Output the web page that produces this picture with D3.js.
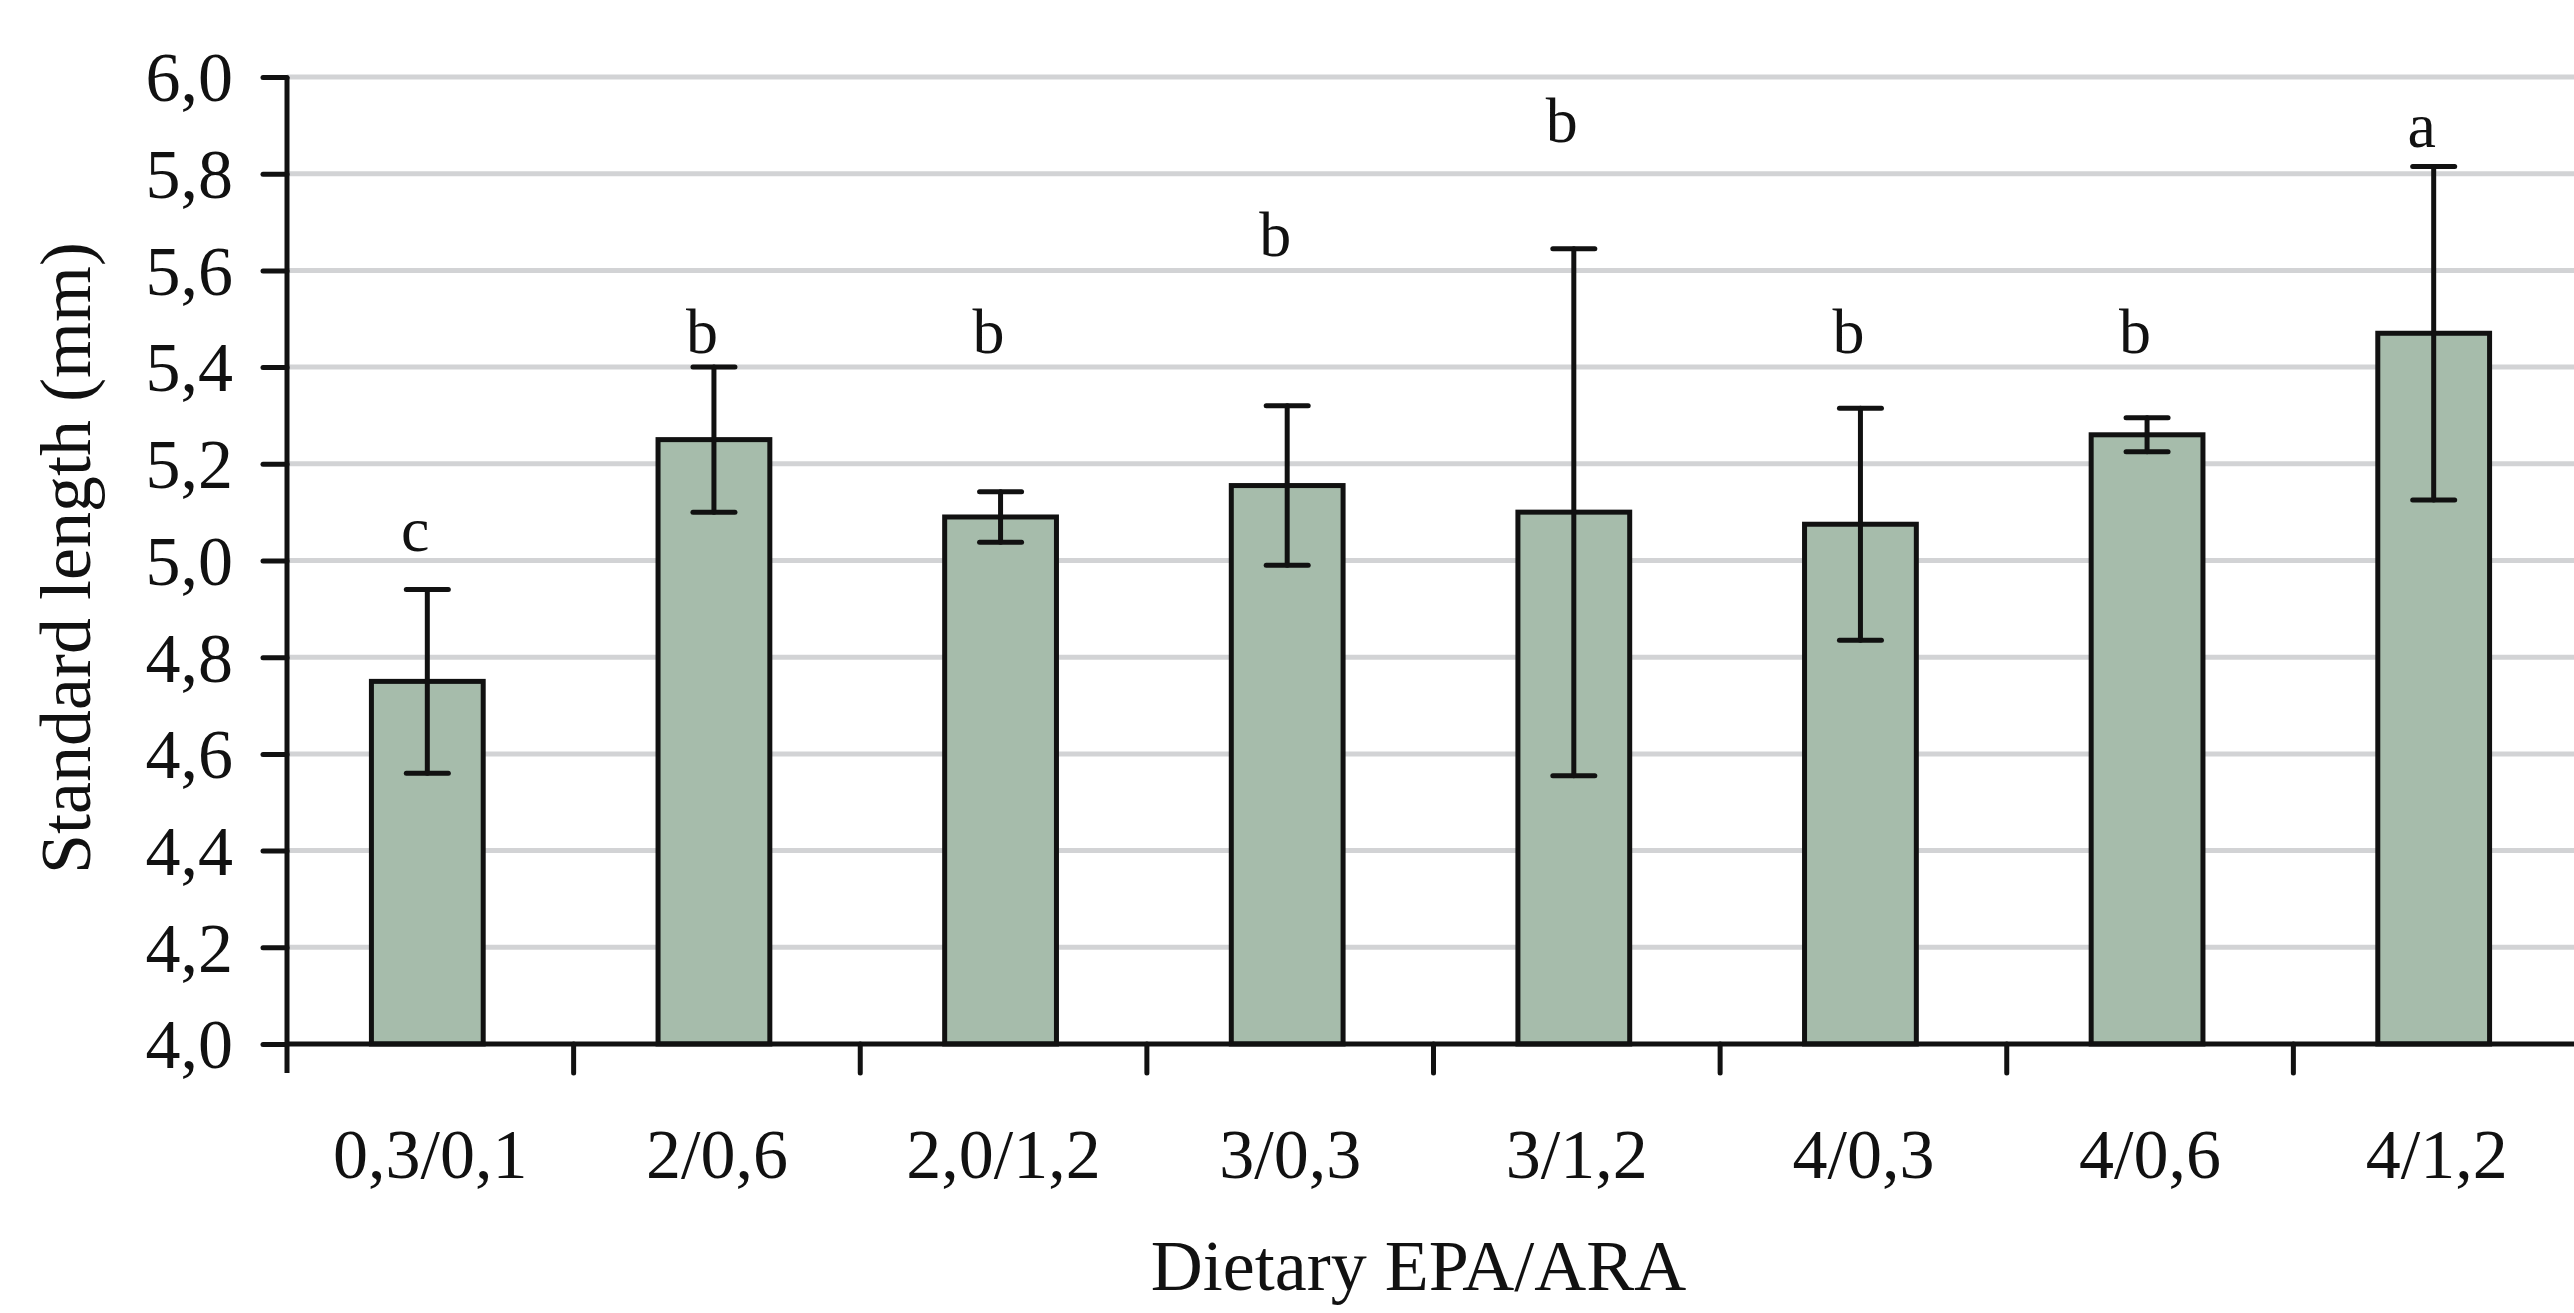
<!DOCTYPE html>
<html>
<head>
<meta charset="utf-8">
<script src="https://cdnjs.cloudflare.com/ajax/libs/d3/7.8.5/d3.min.js"></script>
<style>
  html, body { margin: 0; padding: 0; background: #fff; }
  svg text { font-family: "Liberation Serif", "DejaVu Serif", serif; fill: #111; }
</style>
</head>
<body>
<div id="vizContainer"></div>
<script>
// chart data
var categories = ['0,3/0,1', '2/0,6', '2,0/1,2', '3/0,3', '3/1,2', '4/0,3', '4/0,6', '4/1,2'];
var means = [4.75, 5.25, 5.09, 5.155, 5.10, 5.075, 5.26, 5.47];
var errors = [0.19, 0.15, 0.052, 0.165, 0.545, 0.24, 0.035, 0.345];
var letters = ['c', 'b', 'b', 'b', 'b', 'b', 'b', 'a'];
// vertical position of each letter, in axis units
var letterPos = [5.02, 5.43, 5.43, 5.63, 5.865, 5.43, 5.43, 5.855];
var yTicks = [4.0, 4.2, 4.4, 4.6, 4.8, 5.0, 5.2, 5.4, 5.6, 5.8, 6.0];

var width = 2574, height = 1313;
var plotLeft = 287, plotRight = 2580, plotTop = 77, plotBottom = 1044;

var svg = d3.select('#vizContainer').append('svg')
    .attr('width', width)
    .attr('height', height)
    .attr('viewBox', '0 0 ' + width + ' ' + height);

var x = d3.scaleBand().domain(categories).range([plotLeft, plotRight]).padding(0);
var y = d3.scaleLinear().domain([4.0, 6.0]).range([plotBottom, plotTop]);
var barW = x.bandwidth() * 0.39;
var fmt = function(d){ return d3.format('.1f')(d).replace('.', ','); };

// grid lines
svg.append('g').selectAll('line')
    .data(yTicks.slice(1))
    .enter().append('line')
    .attr('x1', plotLeft).attr('x2', width)
    .attr('y1', function(d){ return y(d); })
    .attr('y2', function(d){ return y(d); })
    .attr('stroke', '#d2d3d5')
    .attr('stroke-width', 5);

// bars
svg.append('g').selectAll('rect')
    .data(means)
    .enter().append('rect')
    .attr('x', function(d, i){ return x(categories[i]) + x.bandwidth() / 2 - barW / 2 - 3; })
    .attr('y', function(d){ return y(d); })
    .attr('width', barW)
    .attr('height', function(d){ return y(4.0) - y(d); })
    .attr('fill', '#a6bcab')
    .attr('stroke', '#111')
    .attr('stroke-width', 5);

// error bars
var eb = svg.append('g').attr('stroke', '#111').attr('stroke-width', 5).attr('stroke-linecap', 'round');
means.forEach(function(m, i){
    var cx = x(categories[i]) + x.bandwidth() / 2 - 3;
    var hi = y(m + errors[i]), lo = y(m - errors[i]);
    eb.append('line').attr('x1', cx).attr('x2', cx).attr('y1', hi).attr('y2', lo);
    eb.append('line').attr('x1', cx - 21).attr('x2', cx + 21).attr('y1', hi).attr('y2', hi);
    eb.append('line').attr('x1', cx - 21).attr('x2', cx + 21).attr('y1', lo).attr('y2', lo);
});

// significance letters
svg.append('g').selectAll('text')
    .data(letters)
    .enter().append('text')
    .attr('x', function(d, i){ return x(categories[i]) + x.bandwidth() / 2 - 15; })
    .attr('y', function(d, i){ return y(letterPos[i]); })
    .attr('text-anchor', 'middle')
    .attr('font-size', 64)
    .text(function(d){ return d; });

// y axis
var yAxis = svg.append('g')
    .attr('transform', 'translate(' + plotLeft + ',0)')
    .call(d3.axisLeft(y).tickValues(yTicks).tickFormat(fmt).tickSize(24).tickPadding(30));
yAxis.select('.domain').attr('stroke', '#111').attr('stroke-width', 5).attr('d', 'M0,' + plotTop + 'V' + (plotBottom + 29));
yAxis.selectAll('.tick line').attr('stroke', '#111').attr('stroke-width', 5).attr('stroke-linecap', 'round');
yAxis.selectAll('.tick text').attr('font-size', 70).attr('font-family', '"Liberation Serif", serif').attr('fill', '#111').attr('dy', '0.34em');

// x axis
var xAxis = svg.append('g')
    .attr('transform', 'translate(0,' + plotBottom + ')')
    .call(d3.axisBottom(x).tickSize(0).tickPadding(84));
xAxis.select('.domain').attr('stroke', '#111').attr('stroke-width', 5).attr('d', 'M' + plotLeft + ',0H' + width);
xAxis.selectAll('.tick text').attr('font-size', 70).attr('font-family', '"Liberation Serif", serif').attr('fill', '#111');
// boundary ticks between categories
xAxis.append('g').selectAll('line')
    .data(categories.slice(1))
    .enter().append('line')
    .attr('x1', function(d){ return x(d); })
    .attr('x2', function(d){ return x(d); })
    .attr('y1', 0).attr('y2', 29)
    .attr('stroke', '#111').attr('stroke-width', 5).attr('stroke-linecap', 'round');

// axis titles
svg.append('text')
    .attr('x', (plotLeft + plotRight) / 2 - 15)
    .attr('y', 1290)
    .attr('text-anchor', 'middle')
    .attr('font-size', 72)
    .text('Dietary EPA/ARA');

svg.append('text')
    .attr('transform', 'translate(90,558) rotate(-90)')
    .attr('text-anchor', 'middle')
    .attr('font-size', 72)
    .text('Standard length (mm)');
</script>
</body>
</html>
